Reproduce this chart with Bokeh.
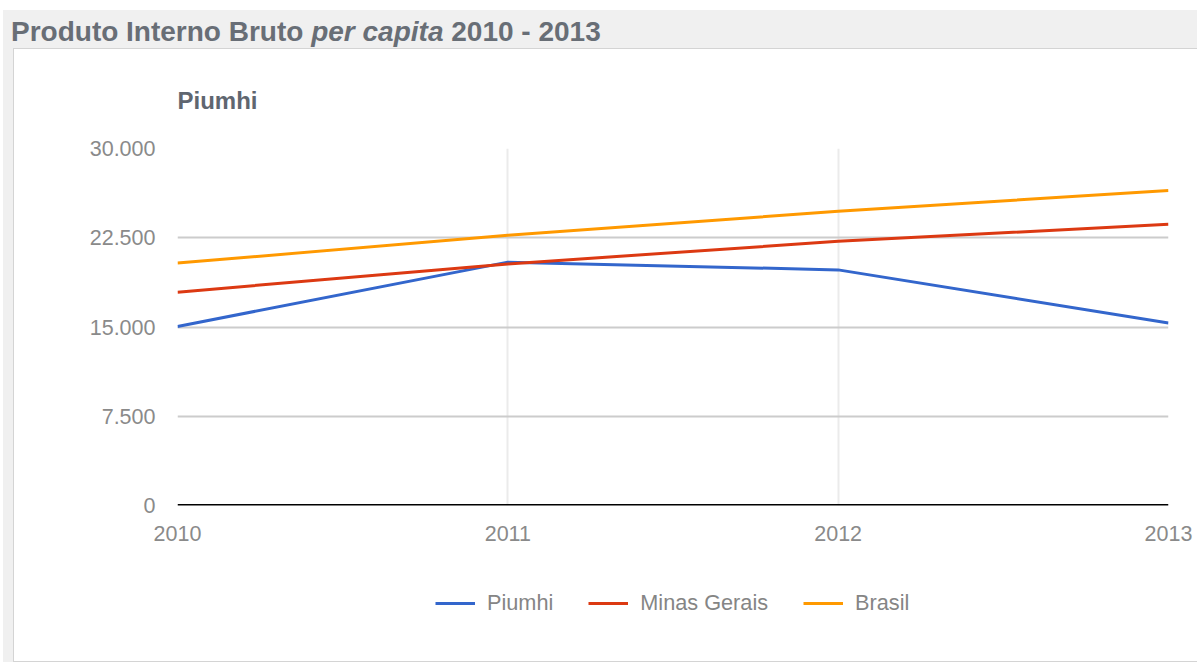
from bokeh.plotting import figure
from bokeh.models import (Div, Column, Row, Spacer, FixedTicker, Span, Legend, LegendItem, Range1d)
from bokeh.embed import file_html
from bokeh.resources import INLINE

# ---- data ----
years = [2010, 2011, 2012, 2013]
piumhi = [15050, 20450, 19800, 15330]
minas_gerais = [17930, 20300, 22200, 23630]
brasil = [20370, 22710, 24720, 26480]
series_names = ["Piumhi", "Minas Gerais", "Brasil"]
series_colors = ["#3366cc", "#dc3912", "#ff9900"]
y_ticks = [0, 7500, 15000, 22500, 30000]
y_tick_labels = ["0", "7.500", "15.000", "22.500", "30.000"]
x_tick_labels = ["2010", "2011", "2012", "2013"]
title_main = "Produto Interno Bruto"
title_italic = "per capita"
title_tail = "2010 - 2013"
chart_title = "Piumhi"

FONT = "Liberation Sans"
series_values = [piumhi, minas_gerais, brasil]

# ---- main chart ----
p = figure(width=1183, height=511, x_range=(2010, 2013), y_range=(0, 30000),
           output_backend="svg", toolbar_location=None,
           min_border_left=163, min_border_right=29, min_border_top=98, min_border_bottom=55)
p.outline_line_color = None
p.background_fill_color = "white"
p.border_fill_color = "white"

p.title.text = chart_title
p.title.text_font = FONT
p.title.text_font_size = "24px"
p.title.text_font_style = "bold"
p.title.text_color = "#5f6670"
p.title.align = "left"
p.title.standoff = 70

p.yaxis.ticker = FixedTicker(ticks=y_ticks)
p.yaxis.major_label_overrides = {t: l for t, l in zip(y_ticks, y_tick_labels)}
p.xaxis.ticker = FixedTicker(ticks=years)
p.xaxis.major_label_overrides = {y: l for y, l in zip(years, x_tick_labels)}
for ax in (p.xaxis, p.yaxis):
    ax.axis_line_color = None
    ax.major_tick_line_color = None
    ax.minor_tick_line_color = None
    ax.major_tick_out = 0
    ax.major_tick_in = 0
    ax.major_label_text_font = FONT
    ax.major_label_text_font_size = "21.5px"
    ax.major_label_text_color = "#8a8a8a"
p.yaxis.major_label_standoff = 22
p.xaxis.major_label_standoff = 20

p.ygrid.ticker = FixedTicker(ticks=y_ticks)
p.ygrid.grid_line_color = "#cccccc"
p.ygrid.grid_line_width = 2
p.xgrid.ticker = FixedTicker(ticks=years)
p.xgrid.grid_line_color = "#ebebeb"
p.xgrid.grid_line_width = 2

for vals, col in zip(series_values, series_colors):
    p.line(years, vals, line_color=col, line_width=3)

p.add_layout(Span(location=0, dimension="width", line_color="#000000", line_width=3))

# ---- legend strip (same series, drawn outside its visible range; only the legend shows) ----
pl = figure(width=1183, height=101, x_range=Range1d(0, 1), y_range=Range1d(0, 1),
            output_backend="svg", toolbar_location=None,
            x_axis_location=None, y_axis_location=None,
            min_border_left=0, min_border_right=0, min_border_top=0, min_border_bottom=0)
pl.outline_line_color = None
pl.background_fill_color = "white"
pl.border_fill_color = "white"
pl.xgrid.visible = False
pl.ygrid.visible = False
leg_renderers = [pl.line(years, vals, line_color=c, line_width=3)
                 for vals, c in zip(series_values, series_colors)]

legend = Legend(items=[LegendItem(label=n, renderers=[r]) for n, r in zip(series_names, leg_renderers)],
                orientation="horizontal", location=(258, 45))
legend.border_line_color = None
legend.background_fill_alpha = 0
legend.padding = 0
legend.margin = 0
legend.spacing = 35
legend.glyph_width = 40
legend.glyph_height = 20
legend.label_height = 20
legend.label_standoff = 12
legend.label_text_font = FONT
legend.label_text_font_size = "21.7px"
legend.label_text_color = "#858585"
pl.add_layout(legend, "center")

# ---- page frame ----
title_html = (f'<div style="padding:8px 0 0 8px; font-family:\'{FONT}\'; font-size:28px; '
              f'font-weight:bold; color:#686e76; line-height:1.0; white-space:nowrap;">'
              f'{title_main} <i>{title_italic}</i> {title_tail}</div>')
title_div = Div(text=title_html, width=1194, height=38, margin=0)

panel = Column(children=[p, pl], styles={"border-left": "1px solid #d4d4d4",
                                         "border-top": "1px solid #d4d4d4",
                                         "border-bottom": "1px solid #d4d4d4",
                                         "background-color": "white"})
inner = Column(children=[title_div, Row(children=[Spacer(width=10, height=614), panel])],
               styles={"background-color": "#f0f0f0"})
root = Column(children=[Spacer(width=1194, height=10),
                        Row(children=[Spacer(width=3, height=653), inner])])

open("out.html", "w").write(file_html(root, INLINE))
